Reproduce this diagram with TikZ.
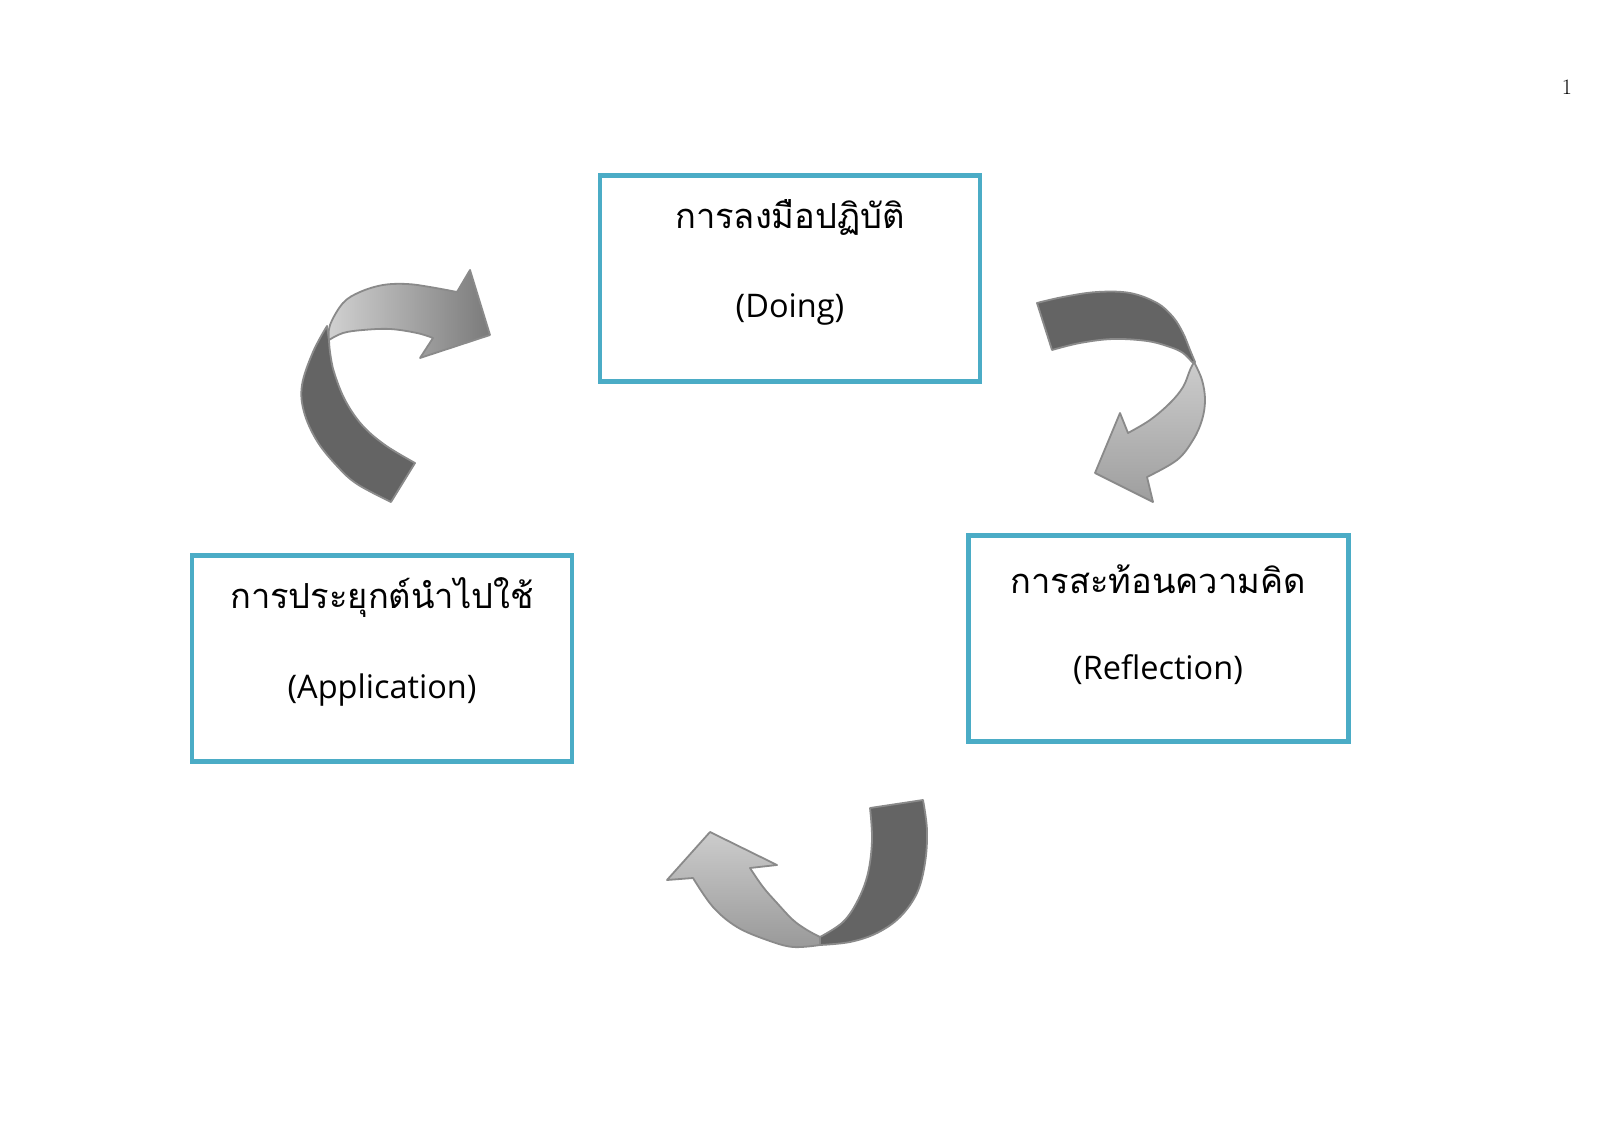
\documentclass[tikz,border=0pt]{standalone}
\usepackage{fontspec}
\newfontfamily\thaifont[Script=Thai]{Loma}
\newfontfamily\latfont{Open Sans}
\definecolor{boxblue}{HTML}{4BACC6}
\definecolor{darkrib}{HTML}{646464}
\definecolor{ribedge}{HTML}{8A8A8A}
\tikzset{
  cbox/.style={draw=boxblue, line width=4.5pt, fill=white, minimum width=380pt, minimum height=206pt, inner sep=0pt},
  thaitxt/.style={font=\thaifont\fontsize{34.5}{40}\selectfont, inner sep=0pt},
  lattxt/.style={font=\latfont\fontsize{32.5}{38}\selectfont, inner sep=0pt},
  darkpart/.style={fill=darkrib, draw=ribedge, line width=1.8pt, line join=round},
  lightpart/.style={draw=ribedge, line width=1.8pt, line join=round},
}
\begin{document}
\begin{tikzpicture}[x=1pt,y=-1pt]
\useasboundingbox (0,0) rectangle (1600,1131);
\fill[white] (0,0) rectangle (1600,1131);

% page number
\node[font=\fontsize{22}{26}\selectfont, inner sep=0pt] (pg) at (1567,87) {1};

% boxes
\node[cbox] (doing) at (790,278.5) {};
\node[cbox] (refl) at (1158.5,638.5) {};
\node[cbox] (appl) at (382,658.5) {};

\node[thaitxt] (doingth) at (790,217) {การลงมือปฏิบัติ};
\node[lattxt] (doingen) at (790,309) {(Doing)};
\node[thaitxt] (reflth) at (1158,579) {การสะท้อนความคิด};
\node[lattxt] (reflen) at (1158,670) {(Reflection)};
\node[thaitxt] (applth) at (382,598) {การประยุกต์นำไปใช้};
\node[lattxt] (applen) at (382,690) {(Application)};

% ---------- arrow 1 (Application -> Doing) ----------
\path[darkpart]
  plot[smooth,tension=0.6] coordinates {(327,326) (313,352) (302,385) (304,412) (317,441) (337,466) (357,484) (391,502)}
  -- (415,463)
  -- plot[smooth,tension=0.6] coordinates {(415,463) (385,445) (362,425) (345,400) (334,372) (330,352) (329,340)}
  -- cycle;
\path[lightpart, left color=black!18, right color=black!52]
  plot[smooth,tension=0.6] coordinates {(329,340) (330,325) (343,303) (360,292) (383,285) (407,284) (430,287) (457,292)}
  -- (470,270) -- (490,335) -- (420,358) -- (433,338)
  -- plot[smooth,tension=0.6] coordinates {(433,338) (417,333) (390,329) (363,330) (343,333) (329,340)}
  -- cycle;

% ---------- arrow 2 (Doing -> Reflection) ----------
\path[darkpart]
  plot[smooth,tension=0.6] coordinates {(1037,303) (1063,297) (1097,292) (1130,293) (1157,303) (1173,317) (1183,333) (1190,350) (1195,362)}
  -- plot[smooth,tension=0.6] coordinates {(1192,362) (1183,353) (1170,347) (1147,341) (1113,339) (1080,343) (1052,350)}
  -- cycle;
\path[lightpart, top color=black!20, bottom color=black!38]
  plot[smooth,tension=0.6] coordinates {(1194,362) (1202,380) (1205,400) (1202,420) (1193,440) (1177,460) (1147,477)}
  -- (1153,502) -- (1095,473) -- (1120,413) -- (1128,433)
  -- plot[smooth,tension=0.6] coordinates {(1128,433) (1150,420) (1170,403) (1183,387) (1190,370) (1194,362)}
  -- cycle;

% ---------- arrow 3 (Reflection -> Application) ----------
\path[darkpart]
  (870,808) -- (923,800)
  -- plot[smooth,tension=0.6] coordinates {(923,800) (927,830) (925,863) (917,893) (900,917) (877,933) (850,942) (820,945)}
  -- plot[smooth,tension=0.6] coordinates {(820,937) (843,922) (858,900) (868,873) (872,840) (870,808)}
  -- cycle;
\path[lightpart, top color=black!20, bottom color=black!40]
  plot[smooth,tension=0.6] coordinates {(820,945) (793,947) (767,940) (737,927) (713,907) (693,878)}
  -- (667,880) -- (710,832) -- (777,865) -- (750,868)
  -- plot[smooth,tension=0.6] coordinates {(750,868) (763,887) (777,903) (793,920) (807,930) (820,937)}
  -- cycle;
\end{tikzpicture}
\end{document}
